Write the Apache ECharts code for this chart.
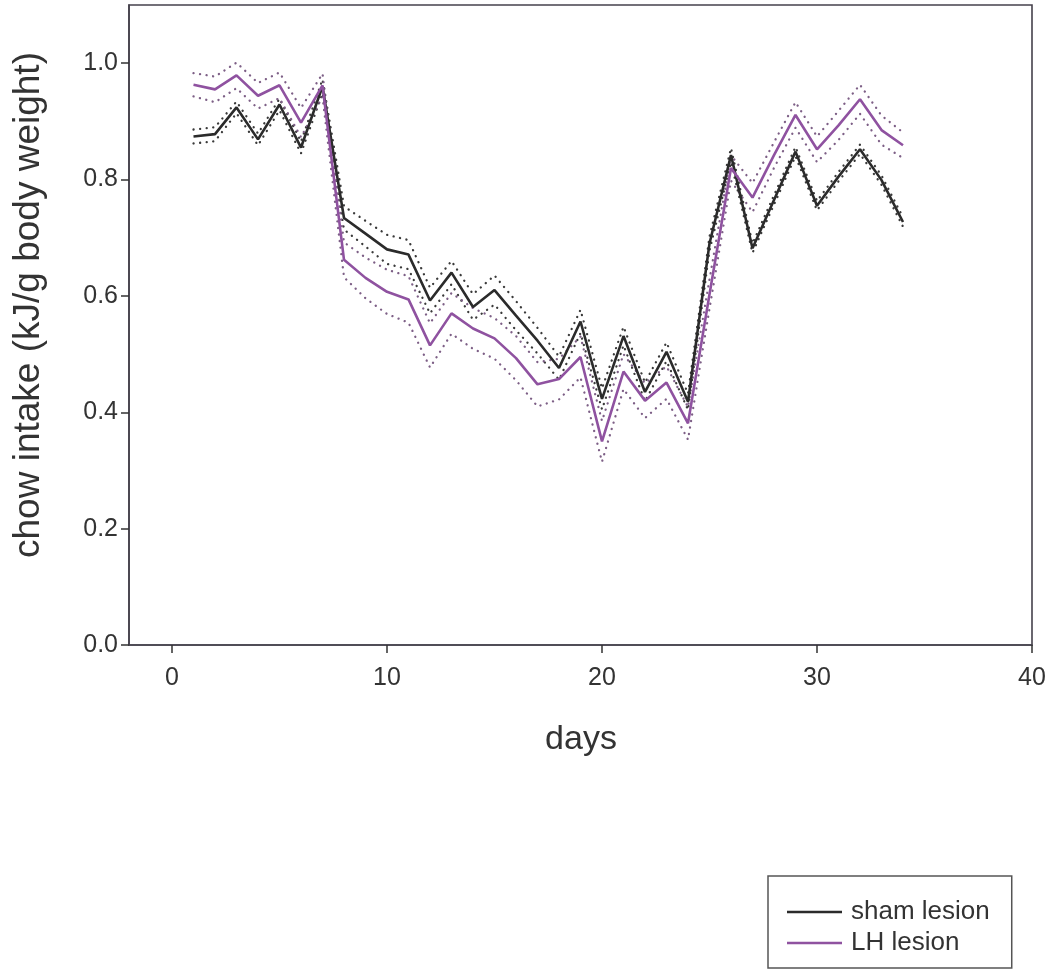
<!DOCTYPE html>
<html>
<head>
<meta charset="utf-8">
<title>chow intake</title>
<script src="https://cdn.jsdelivr.net/npm/echarts@6/dist/echarts.min.js"></script>
<style>
  html, body { margin: 0; padding: 0; background: #ffffff; }
  #chart { width: 1055px; height: 976px; }
</style>
</head>
<body>
<div id="chart"></div>
<script>
// Daily chow intake (kJ/g body weight), mean and SEM per group
const days = [1,2,3,4,5,6,7,8,9,10,11,12,13,14,15,16,17,18,19,20,21,22,23,24,25,26,27,28,29,30,31,32,33,34];

const shamMean = [0.874,0.878,0.924,0.869,0.929,0.855,0.960,0.734,0.707,0.680,0.671,0.592,0.640,0.581,0.610,0.566,0.523,0.476,0.556,0.423,0.531,0.435,0.504,0.418,0.690,0.842,0.682,0.765,0.848,0.755,0.805,0.852,0.799,0.727];
const shamSem  = [0.012,0.012,0.010,0.010,0.010,0.010,0.012,0.020,0.022,0.025,0.025,0.022,0.020,0.022,0.025,0.025,0.022,0.020,0.020,0.018,0.016,0.016,0.016,0.014,0.012,0.012,0.008,0.008,0.008,0.008,0.008,0.008,0.008,0.008];

const lhMean = [0.963,0.955,0.979,0.944,0.962,0.898,0.962,0.662,0.631,0.607,0.594,0.515,0.570,0.544,0.527,0.493,0.448,0.457,0.495,0.350,0.470,0.420,0.451,0.381,0.603,0.820,0.769,0.842,0.911,0.852,0.893,0.938,0.885,0.859];
const lhSem  = [0.020,0.022,0.022,0.022,0.022,0.025,0.020,0.030,0.035,0.038,0.040,0.038,0.035,0.035,0.035,0.038,0.038,0.035,0.035,0.035,0.030,0.030,0.028,0.028,0.025,0.022,0.025,0.022,0.022,0.022,0.025,0.025,0.025,0.022];

const xTicks = [0, 10, 20, 30, 40];
const yTicks = [0, 0.2, 0.4, 0.6, 0.8, 1.0];

const groupNames = ['sham lesion', 'LH lesion'];
const xTitle = 'days';
const yTitle = 'chow intake (kJ/g body weight)';

const SHAM_COLOR = '#2b2b2b';
const LH_COLOR = '#8f52a0';
const FONT = '"Liberation Sans", Arial, sans-serif';

const pairs = (vals) => days.map((d, i) => [d, vals[i]]);
const band = (mean, sem, sign) => days.map((d, i) => [d, +(mean[i] + sign * sem[i]).toFixed(4)]);

function meanSeries(name, vals, color) {
  return {
    name, type: 'line', data: pairs(vals), symbol: 'none', z: 5,
    lineStyle: { color, width: 2.6 }, itemStyle: { color },
    emphasis: { disabled: true }
  };
}
function semSeries(name, vals, color) {
  return {
    name, type: 'line', data: vals, symbol: 'none', z: 3,
    lineStyle: { color, width: 2.3, type: [0.1, 6.5], cap: 'round' },
    emphasis: { disabled: true }, silent: true
  };
}

const chart = echarts.init(document.getElementById('chart'), null, { renderer: 'canvas' });

chart.setOption({
  animation: false,
  backgroundColor: '#ffffff',
  grid: {
    left: 129, right: 23, top: 5, bottom: 331,
    show: true, borderColor: '#45414c', borderWidth: 1.6, backgroundColor: 'transparent'
  },
  xAxis: {
    type: 'value', min: -2, max: 40,
    axisLine: { show: true, onZero: false, lineStyle: { color: '#45414c', width: 1.6 } },
    axisTick: { show: true, length: 8, customValues: xTicks, lineStyle: { color: '#333', width: 1.5 } },
    axisLabel: { customValues: xTicks, margin: 21, fontSize: 25, fontFamily: FONT, color: '#333' },
    splitLine: { show: false }
  },
  yAxis: {
    type: 'value', min: 0, max: 1.1,
    axisLine: { show: true, onZero: false, lineStyle: { color: '#45414c', width: 1.6 } },
    axisTick: { show: true, length: 8, customValues: yTicks, lineStyle: { color: '#333', width: 1.5 } },
    axisLabel: {
      customValues: yTicks, margin: 11, fontSize: 25, fontFamily: FONT, color: '#333',
      formatter: (v) => v.toFixed(1)
    },
    splitLine: { show: false }
  },
  legend: {
    data: groupNames,
    orient: 'vertical',
    left: 768, top: 876,
    padding: [23, 22, 12, 19],
    icon: 'rect',
    itemWidth: 55, itemHeight: 2.5, itemGap: 5,
    borderColor: '#555', borderWidth: 1.5, borderRadius: 0,
    textStyle: { fontSize: 26, fontFamily: FONT, color: '#333', padding: [0, 0, 0, 4], lineHeight: 26 },
    selectedMode: false
  },
  graphic: [
    {
      type: 'text', x: 581, y: 740,
      style: { text: xTitle, font: '34px ' + FONT, fill: '#333', align: 'center', verticalAlign: 'middle', textAlign: 'center', textVerticalAlign: 'middle' }
    },
    {
      type: 'text', x: 29, y: 305, rotation: Math.PI / 2,
      style: { text: yTitle, font: '37px ' + FONT, fill: '#333', align: 'center', verticalAlign: 'middle', textAlign: 'center', textVerticalAlign: 'middle' }
    }
  ],
  series: [
    semSeries('sham upper', band(shamMean, shamSem, 1), '#3a3a3a'),
    semSeries('sham lower', band(shamMean, shamSem, -1), '#3a3a3a'),
    semSeries('LH upper', band(lhMean, lhSem, 1), '#7d5f86'),
    semSeries('LH lower', band(lhMean, lhSem, -1), '#7d5f86'),
    meanSeries(groupNames[0], shamMean, SHAM_COLOR),
    meanSeries(groupNames[1], lhMean, LH_COLOR)
  ]
});
</script>
</body>
</html>
